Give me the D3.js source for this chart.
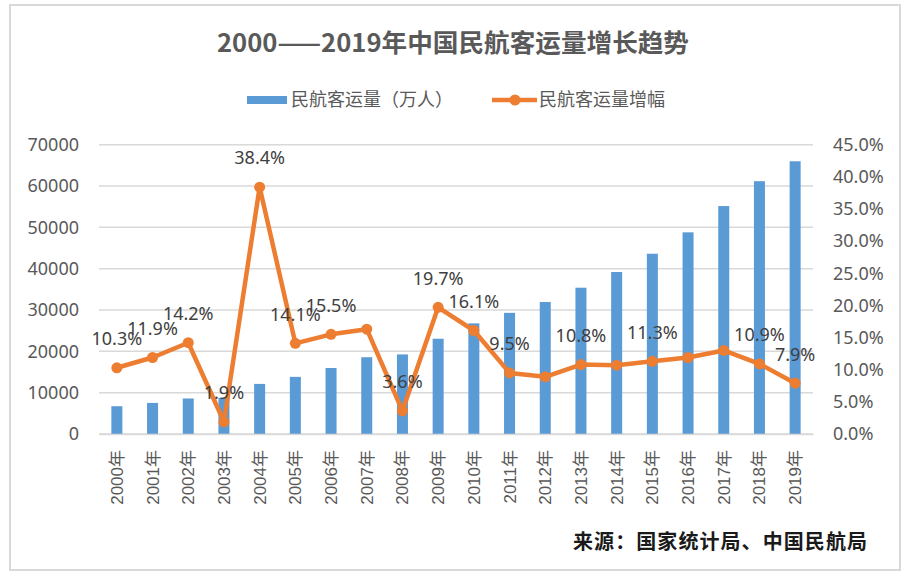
<!DOCTYPE html>
<html><head><meta charset="utf-8">
<script src="https://cdn.jsdelivr.net/npm/d3@7/dist/d3.min.js"></script>
<style>
html,body{margin:0;padding:0;background:#fff;}
text{font-family:"Noto Sans","Noto Sans CJK SC",sans-serif;}
</style></head>
<body><svg id="c" width="906" height="580"></svg>
<script>
const years = ["2000年","2001年","2002年","2003年","2004年","2005年","2006年","2007年","2008年","2009年","2010年","2011年","2012年","2013年","2014年","2015年","2016年","2017年","2018年","2019年"];
const passengers = [6722,7524,8594,8759,12123,13827,15968,18576,19251,23052,26769,29317,31936,35397,39195,43618,48796,55156,61174,65993];
const growth = [10.3,11.9,14.2,1.9,38.4,14.1,15.5,16.3,3.6,19.7,16.1,9.5,8.9,10.8,10.7,11.3,11.9,13.0,10.9,7.9];
const growthLabels = ["10.3%","11.9%","14.2%","1.9%","38.4%","14.1%","15.5%","","3.6%","19.7%","16.1%","9.5%","","10.8%","","11.3%","","","10.9%","7.9%"];
const leftTicks = [0,10000,20000,30000,40000,50000,60000,70000];
const rightTicks = [0,5,10,15,20,25,30,35,40,45];
const title = "2000——2019年中国民航客运量增长趋势";
const legendNames = ["民航客运量（万人）","民航客运量增幅"];
const source = "来源：国家统计局、中国民航局";

const svg = d3.select("#c");
const m = {left:99,right:813,top:144.7,bottom:434};
const blue="#5b9bd5", orange="#ed7d31", grid="#d9d9d9", txt="#595959";

svg.append("rect").attr("x",10).attr("y",5).attr("width",890).attr("height",565)
  .attr("fill","#fff").attr("stroke","#d9d9d9").attr("stroke-width",2);

const x = d3.scaleBand().domain(years).range([m.left,m.right]);
const yL = d3.scaleLinear().domain([0,70000]).range([m.bottom,m.top]);
const yR = d3.scaleLinear().domain([0,45]).range([m.bottom,m.top]);

// grid
svg.append("g").selectAll("line").data(leftTicks).join("line")
  .attr("x1",m.left).attr("x2",m.right)
  .attr("y1",d=>yL(d)).attr("y2",d=>yL(d))
  .attr("stroke",grid).attr("stroke-width",1.5);

// left axis
const axL = svg.append("g").attr("transform",`translate(${m.left},0)`)
  .call(d3.axisLeft(yL).tickValues(leftTicks).tickSize(0).tickPadding(20).tickFormat(d3.format("d")));
axL.select(".domain").remove();
axL.selectAll("text").attr("font-size",18).attr("fill",txt).style("font-family","'Noto Sans',sans-serif");

// right axis
const axR = svg.append("g").attr("transform",`translate(${m.right},0)`)
  .call(d3.axisRight(yR).tickValues(rightTicks).tickSize(0).tickPadding(20).tickFormat(d=>d.toFixed(1)+"%"));
axR.select(".domain").remove();
axR.selectAll("text").attr("font-size",18).attr("fill",txt).style("font-family","'Noto Sans',sans-serif");

// bars
const bw = 11;
svg.append("g").selectAll("rect").data(passengers).join("rect")
  .attr("x",(d,i)=>x(years[i])+x.bandwidth()/2-bw/2)
  .attr("width",bw)
  .attr("y",d=>yL(d)).attr("height",d=>yL(0)-yL(d))
  .attr("fill",blue);

// x axis
const axB = svg.append("g").attr("transform",`translate(0,${m.bottom})`)
  .call(d3.axisBottom(x).tickSize(0).tickPadding(0));
axB.select(".domain").attr("stroke",grid).attr("stroke-width",1.5);
axB.selectAll("text")
  .attr("transform","rotate(-90)")
  .attr("text-anchor","end")
  .attr("x",-16).attr("y",0).attr("dy","0.35em")
  .attr("font-size",17).attr("fill",txt)
  .style("font-family","'Liberation Sans','Noto Sans CJK SC',sans-serif");

// line
const cx = i=>x(years[i])+x.bandwidth()/2;
const line = d3.line().x((d,i)=>cx(i)).y(d=>yR(d));
svg.append("path").datum(growth).attr("d",line)
  .attr("fill","none").attr("stroke",orange).attr("stroke-width",4.5).attr("stroke-linejoin","round");
svg.append("g").selectAll("circle").data(growth).join("circle")
  .attr("cx",(d,i)=>cx(i)).attr("cy",d=>yR(d)).attr("r",5.5).attr("fill",orange);

// data labels
svg.append("g").selectAll("text").data(growth).join("text")
  .attr("x",(d,i)=>cx(i)).attr("y",d=>yR(d)-29).attr("dy","0.35em")
  .attr("text-anchor","middle").attr("font-size",18).attr("fill","#404040")
  .text((d,i)=>growthLabels[i]);

// title
svg.append("text").attr("x",453).attr("y",52).attr("text-anchor","middle")
  .attr("font-size",25).attr("font-weight","bold").attr("fill",txt)
  .attr("textLength",472).attr("lengthAdjust","spacingAndGlyphs")
  .style("font-family","'Noto Sans CJK SC',sans-serif").text(title);

// legend
const lg = svg.append("g");
lg.append("rect").attr("x",247).attr("y",96).attr("width",40).attr("height",8).attr("fill",blue);
lg.append("text").attr("x",291).attr("y",100).attr("dy","0.35em").attr("font-size",18).attr("fill",txt)
  .style("font-family","'Noto Sans CJK SC',sans-serif").text(legendNames[0]);
lg.append("line").attr("x1",492).attr("x2",537).attr("y1",100).attr("y2",100).attr("stroke",orange).attr("stroke-width",4.5);
lg.append("circle").attr("cx",515).attr("cy",100).attr("r",5.5).attr("fill",orange);
lg.append("text").attr("x",539).attr("y",100).attr("dy","0.35em").attr("font-size",18).attr("fill",txt)
  .style("font-family","'Noto Sans CJK SC',sans-serif").text(legendNames[1]);

// source
svg.append("text").attr("x",573).attr("y",542).attr("dy","0.35em")
  .attr("font-size",20).attr("font-weight","bold").attr("fill","#1a1a1a")
  .attr("textLength",294).attr("lengthAdjust","spacing")
  .style("font-family","'Noto Sans CJK SC',sans-serif").text(source);
</script></body></html>
